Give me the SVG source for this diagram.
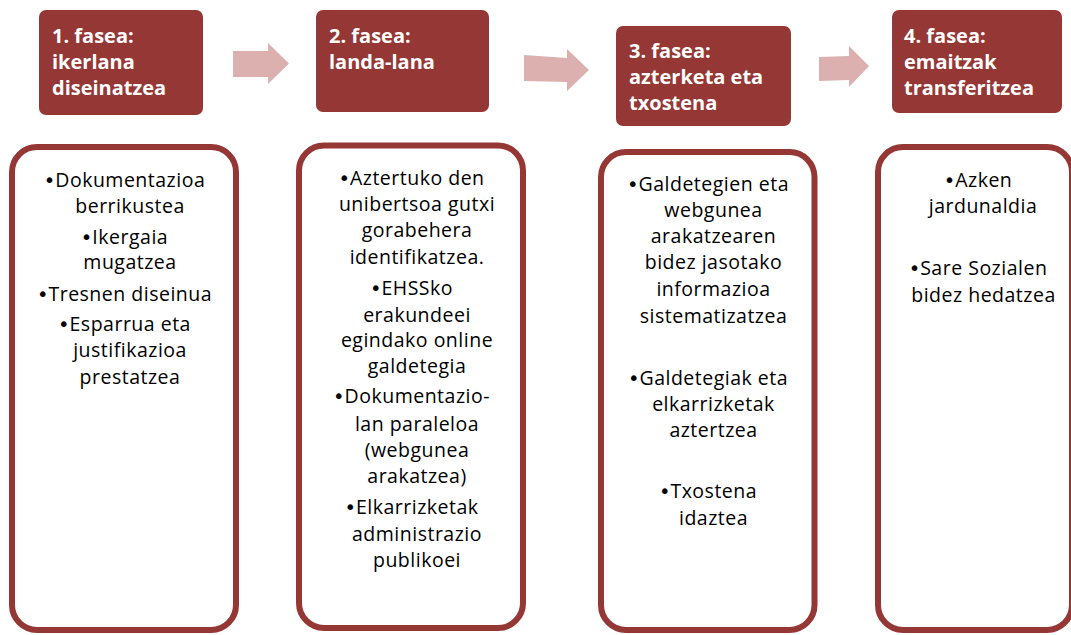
<svg xmlns="http://www.w3.org/2000/svg" width="1071" height="635" viewBox="0 0 1071 635">
<style>
.hdr{fill:#953735}
.ht{font-family:"Open Sans","Liberation Sans",sans-serif;font-weight:bold;font-size:20px;fill:#ffffff}
.box{fill:#ffffff;stroke:#953735;stroke-width:6}
.bt{font-family:"Open Sans","Liberation Sans",sans-serif;font-size:19.5px;letter-spacing:0.5px;fill:#000000;text-anchor:middle}
.b{font-family:"DejaVu Sans",sans-serif;letter-spacing:0}
.arr{fill:#dcb0af}
</style>
<rect width="1071" height="635" fill="#ffffff"/>
<g id="connectors">
<polygon class="arr" points="233,51 268,51 268,43 289,63.5 268,84 268,77 233,77"/>
<polygon class="arr" points="524,55 567,58 567,49 589,70 567,91 567,82 524,81"/>
<polygon class="arr" points="819,57 849,56 849,46 869,66 849,87 849,80 819,81"/>
</g>
<g id="phase1">
<rect class="hdr" x="39" y="10" width="164" height="105" rx="7"/>
<text class="ht" x="52" y="43">1. fasea:</text>
<text class="ht" x="52" y="69">ikerlana</text>
<text class="ht" x="52" y="95">diseinatzea</text>
</g>
<g id="phase2">
<rect class="hdr" x="316" y="10" width="173" height="102" rx="7"/>
<text class="ht" x="329" y="43">2. fasea:</text>
<text class="ht" x="329" y="69">landa-lana</text>
</g>
<g id="phase3">
<rect class="hdr" x="616" y="26" width="175" height="100" rx="7"/>
<text class="ht" x="629" y="58">3. fasea:</text>
<text class="ht" x="629" y="84">azterketa eta</text>
<text class="ht" x="629" y="110">txostena</text>
</g>
<g id="phase4">
<rect class="hdr" x="892" y="10" width="170" height="103" rx="7"/>
<text class="ht" x="904" y="43">4. fasea:</text>
<text class="ht" x="904" y="69">emaitzak</text>
<text class="ht" x="904" y="95">transferitzea</text>
</g>
<g id="tasks1">
<rect class="box" x="12" y="147" width="224" height="483" rx="25"/>
<text class="bt" x="124.5" y="187"><tspan class="b">•</tspan>Dokumentazioa</text>
<text class="bt" x="130" y="213">berrikustea</text>
<text class="bt" x="124.5" y="244"><tspan class="b">•</tspan>Ikergaia</text>
<text class="bt" x="130" y="269">mugatzea</text>
<text class="bt" x="124.5" y="301"><tspan class="b">•</tspan>Tresnen diseinua</text>
<text class="bt" x="124.5" y="331"><tspan class="b">•</tspan>Esparrua eta</text>
<text class="bt" x="130" y="357">justifikazioa</text>
<text class="bt" x="130" y="384">prestatzea</text>
</g>
<g id="tasks2">
<rect class="box" x="299" y="145.5" width="224" height="482.5" rx="25"/>
<text class="bt" x="411.5" y="185"><tspan class="b">•</tspan>Aztertuko den</text>
<text class="bt" x="417" y="211">unibertsoa gutxi</text>
<text class="bt" x="417" y="237">gorabehera</text>
<text class="bt" x="417" y="264">identifikatzea.</text>
<text class="bt" x="411.5" y="295"><tspan class="b">•</tspan>EHSSko</text>
<text class="bt" x="417" y="322">erakundeei</text>
<text class="bt" x="417" y="347">egindako online</text>
<text class="bt" x="417" y="373">galdetegia</text>
<text class="bt" x="411.5" y="403"><tspan class="b">•</tspan>Dokumentazio-</text>
<text class="bt" x="417" y="431">lan paraleloa</text>
<text class="bt" x="417" y="457">(webgunea</text>
<text class="bt" x="417" y="483">arakatzea)</text>
<text class="bt" x="411.5" y="514"><tspan class="b">•</tspan>Elkarrizketak</text>
<text class="bt" x="417" y="541">administrazio</text>
<text class="bt" x="417" y="567">publikoei</text>
</g>
<g id="tasks3">
<rect class="box" x="601" y="152" width="213.5" height="478" rx="25"/>
<text class="bt" x="708" y="191"><tspan class="b">•</tspan>Galdetegien eta</text>
<text class="bt" x="713.5" y="217">webgunea</text>
<text class="bt" x="713.5" y="243">arakatzearen</text>
<text class="bt" x="713.5" y="269">bidez jasotako</text>
<text class="bt" x="713.5" y="296">informazioa</text>
<text class="bt" x="713.5" y="323">sistematizatzea</text>
<text class="bt" x="708" y="385"><tspan class="b">•</tspan>Galdetegiak eta</text>
<text class="bt" x="713.5" y="411">elkarrizketak</text>
<text class="bt" x="713.5" y="437">aztertzea</text>
<text class="bt" x="708" y="498"><tspan class="b">•</tspan>Txostena</text>
<text class="bt" x="713.5" y="525">idaztea</text>
</g>
<g id="tasks4">
<rect class="box" x="878" y="147" width="194" height="483" rx="25"/>
<text class="bt" x="978" y="187"><tspan class="b">•</tspan>Azken</text>
<text class="bt" x="983" y="213">jardunaldia</text>
<text class="bt" x="978" y="275"><tspan class="b">•</tspan>Sare Sozialen</text>
<text class="bt" x="983.5" y="302">bidez hedatzea</text>
</g>
</svg>
